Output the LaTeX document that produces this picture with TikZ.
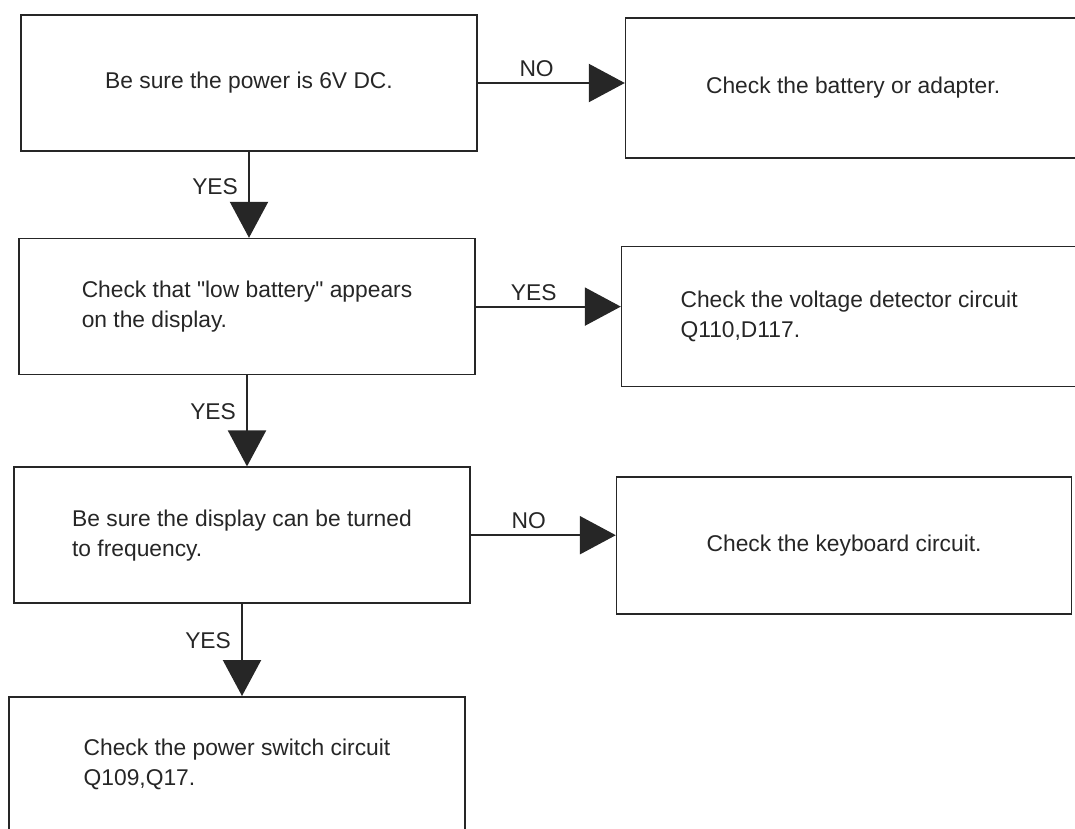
\documentclass[tikz,border=0pt]{standalone}
\usepackage{fontspec}
\setmainfont{Liberation Sans}[Ligatures=TeXOff]
\usetikzlibrary{%
	arrows.meta,%
	positioning,%
}
\tikzset{
	>={Triangle[length=36pt, width=38pt]},
	nodes={align=center},
}
\definecolor{cink}{RGB}{38, 38, 38}

\begin{document}
\begin{tikzpicture}[x=1pt, y=-1pt,%
		font=\fontsize{22.8}{30}\selectfont,%
		box/.style={draw=cink, rectangle, line width=1.6pt, minimum width=456pt, minimum height=136pt, text=cink},%
		res/.style={box, minimum width=455pt, minimum height=140pt},%
		flow/.style={->, draw=cink, fill=cink, line width=2.2pt},%
		lbl/.style={text=cink, inner sep=2pt}]
	\useasboundingbox (0,0) rectangle (1075,828);

	\node[box] (power) at (249,83) {Be sure the power is 6V DC.};
	\node[box, align=left] (lowbat) [below=86pt of power, xshift=-2pt] {Check that "low battery" appears\\on the display.};
	\node[box, align=left] (freq) [below=91pt of lowbat, xshift=-5pt] {Be sure the display can be turned\\to frequency.};
	\node[box, align=left] (pswitch) [below=92pt of freq, xshift=-5pt] {Check the power switch circuit\\Q109,Q17.};

	\node[res] (battery) [right=147pt of power, yshift=-5pt] {Check the battery or adapter.};
	\node[res, align=left] (detector) [right=145pt of lowbat, yshift=-10pt] {Check the voltage detector circuit\\Q110,D117.};
	\node[res, minimum height=137pt] (keyboard) [right=145pt of freq, yshift=-10pt] {Check the keyboard circuit.};

	\draw[flow] (power.east) -- node[lbl, above=3pt, pos=0.4] {NO} (power.east -| battery.west);
	\draw[flow] (lowbat.east) -- node[lbl, above=3pt, pos=0.4] {YES} (lowbat.east -| detector.west);
	\draw[flow] (freq.east) -- node[lbl, above=3pt, pos=0.4] {NO} (freq.east -| keyboard.west);

	\draw[flow] (power.south) -- node[lbl, left=8pt, pos=0.4] {YES} (power.south |- lowbat.north);
	\draw[flow] (lowbat.south) -- node[lbl, left=8pt, pos=0.4] {YES} (lowbat.south |- freq.north);
	\draw[flow] (freq.south) -- node[lbl, left=8pt, pos=0.4] {YES} (freq.south |- pswitch.north);
\end{tikzpicture}
\end{document}
